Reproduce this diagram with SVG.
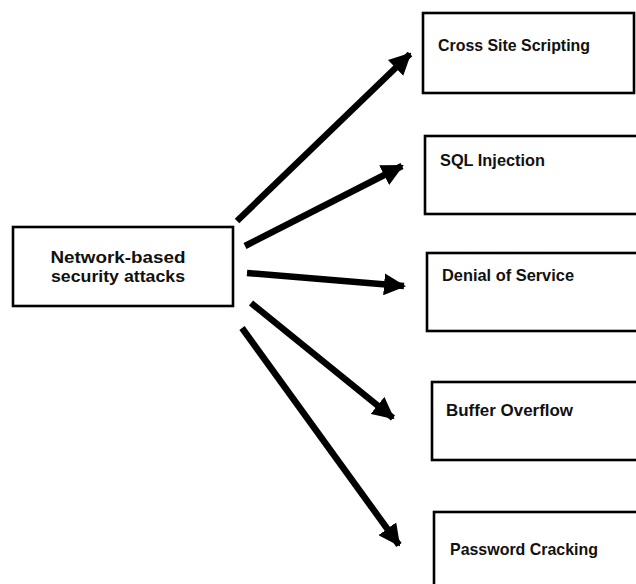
<svg xmlns="http://www.w3.org/2000/svg" width="636" height="584" viewBox="0 0 636 584">
<style>
.box{fill:#fff;stroke:#000;stroke-width:2.6}
.t{font-family:"Liberation Sans",Arial,sans-serif;font-weight:bold;font-size:17px;fill:#111}
.c{stroke:#000;stroke-width:6.5;fill:none;marker-end:url(#ah)}
</style>
<defs>
<marker id="ah" markerUnits="userSpaceOnUse" viewBox="0 0 22 22" refX="20" refY="11" markerWidth="22" markerHeight="22" orient="auto">
<path d="M0,0 L22,11 L0,22 Z" fill="#000"/>
</marker>
</defs>
<rect width="636" height="584" fill="#fff"/>
<g id="connectors">
<line class="c" x1="237" y1="221" x2="410" y2="54"/>
<line class="c" x1="245" y1="246" x2="402" y2="166"/>
<line class="c" x1="247" y1="273" x2="404" y2="286"/>
<line class="c" x1="251" y1="303" x2="393" y2="418"/>
<line class="c" x1="242" y1="328" x2="399" y2="545"/>
</g>
<g id="n0">
<rect class="box" x="13" y="227" width="220" height="79"/>
<text class="t" x="118" y="263" text-anchor="middle" textLength="135" lengthAdjust="spacingAndGlyphs">Network-based</text>
<text class="t" x="118" y="282" text-anchor="middle" textLength="134" lengthAdjust="spacingAndGlyphs">security attacks</text>
</g>
<g id="n1">
<rect class="box" x="423" y="13" width="211" height="80"/>
<text class="t" x="438" y="51" textLength="152" lengthAdjust="spacingAndGlyphs">Cross Site Scripting</text>
</g>
<g id="n2">
<rect class="box" x="425" y="136" width="220" height="78"/>
<text class="t" x="440" y="166" textLength="105" lengthAdjust="spacingAndGlyphs">SQL Injection</text>
</g>
<g id="n3">
<rect class="box" x="427" y="253" width="220" height="78"/>
<text class="t" x="442" y="281" textLength="132" lengthAdjust="spacingAndGlyphs">Denial of Service</text>
</g>
<g id="n4">
<rect class="box" x="432" y="382" width="220" height="78"/>
<text class="t" x="446" y="416" textLength="127" lengthAdjust="spacingAndGlyphs">Buffer Overflow</text>
</g>
<g id="n5">
<rect class="box" x="434" y="512" width="220" height="90"/>
<text class="t" x="450" y="555" textLength="148" lengthAdjust="spacingAndGlyphs">Password Cracking</text>
</g>
</svg>
